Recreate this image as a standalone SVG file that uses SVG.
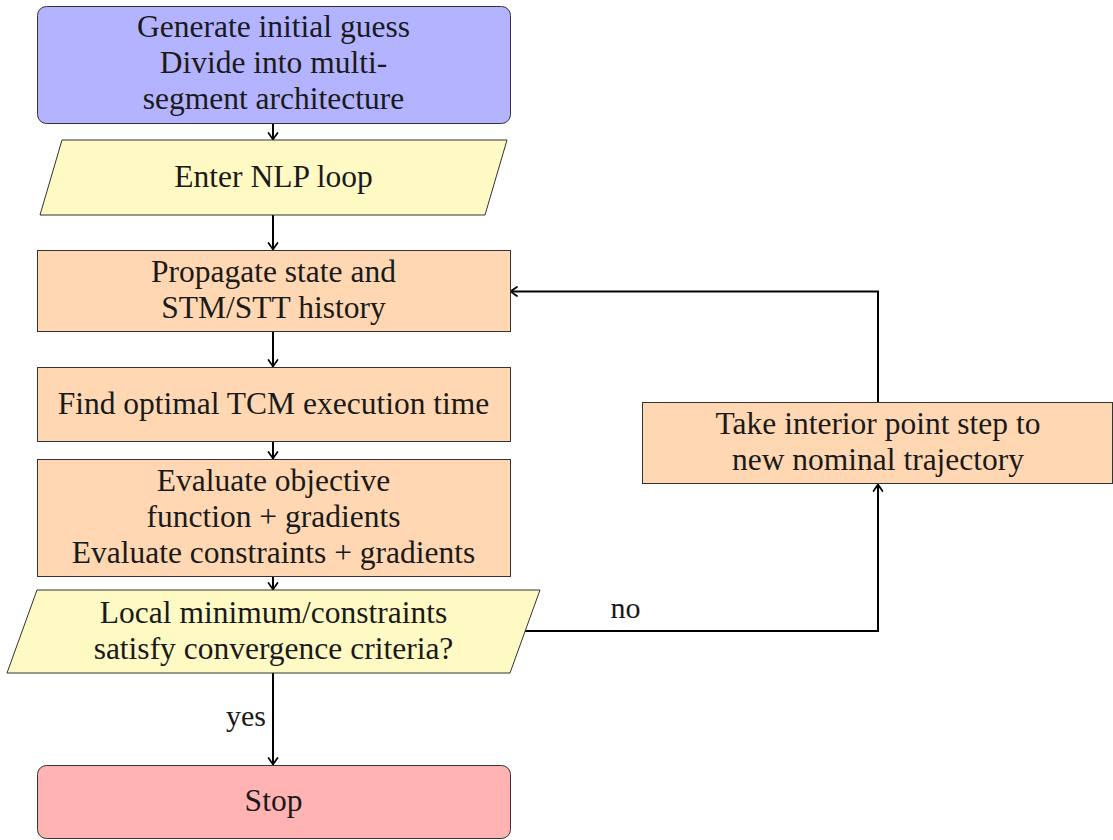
<svg xmlns="http://www.w3.org/2000/svg" width="1113" height="840" viewBox="0 0 1113 840" font-family="Liberation Serif, DejaVu Serif, serif">
<style>
  text { font-family: "Liberation Serif", "DejaVu Serif", serif; }
  .t { font-size: 31.5px; fill: #1a1a1a; text-anchor: middle; }
  .lbl { font-size: 30px; fill: #1a1a1a; }
  .box { stroke: #333; stroke-width: 1; }
  .blue { fill: #b3b3ff; }
  .peach { fill: #ffd8b3; }
  .yellow { fill: #fff9c4; }
  .red { fill: #ffb3b3; }
  .conn { fill: none; stroke: #000; stroke-width: 2; }
</style>
<defs>
  <marker id="arr" markerUnits="userSpaceOnUse" viewBox="-8 -6 10 12" refX="0" refY="0" markerWidth="10" markerHeight="12" orient="auto">
    <path d="M -6.5 -4.5 Q -1.5 -1 0 0 Q -1.5 1 -6.5 4.5" fill="none" stroke="#000" stroke-width="1.7" stroke-linecap="round" stroke-linejoin="round"/>
  </marker>
</defs>
<g id="connectors">
  <path class="conn" marker-end="url(#arr)" d="M 273 124 L 273 139.5"/>
  <path class="conn" marker-end="url(#arr)" d="M 273 215 L 273 249.5"/>
  <path class="conn" marker-end="url(#arr)" d="M 273 332 L 273 366.5"/>
  <path class="conn" marker-end="url(#arr)" d="M 273 442 L 273 458.5"/>
  <path class="conn" marker-end="url(#arr)" d="M 273 577 L 273 589.5"/>
  <path class="conn" marker-end="url(#arr)" d="M 273 673 L 273 764.5"/>
  <path class="conn" marker-end="url(#arr)" d="M 525 631 L 878 631 L 878 484.5"/>
  <path class="conn" marker-end="url(#arr)" d="M 878 402 L 878 291.5 L 510.5 291.5"/>
  <text class="lbl" x="625.5" y="618" text-anchor="middle">no</text>
  <text class="lbl" x="266" y="726" text-anchor="end">yes</text>
</g>
<g id="n1">
  <rect class="box blue" x="37.5" y="6.5" width="473" height="117" rx="9"/>
  <text class="t" x="273.5" y="37">Generate initial guess</text>
  <text class="t" x="273.5" y="73">Divide into multi-</text>
  <text class="t" x="273.5" y="109">segment architecture</text>
</g>
<g id="n2">
  <polygon class="box yellow" points="62,140 507,140 485,215 40,215"/>
  <text class="t" x="273.5" y="187">Enter NLP loop</text>
</g>
<g id="n3">
  <rect class="box peach" x="37.5" y="250.5" width="473" height="81"/>
  <text class="t" x="273.5" y="282">Propagate state and</text>
  <text class="t" x="273.5" y="318">STM/STT history</text>
</g>
<g id="n4">
  <rect class="box peach" x="37.5" y="367.5" width="473" height="74"/>
  <text class="t" x="273.5" y="414">Find optimal TCM execution time</text>
</g>
<g id="n5">
  <rect class="box peach" x="37.5" y="459.5" width="473" height="117"/>
  <text class="t" x="273.5" y="491">Evaluate objective</text>
  <text class="t" x="273.5" y="527">function + gradients</text>
  <text class="t" x="273.5" y="563">Evaluate constraints + gradients</text>
</g>
<g id="n6">
  <polygon class="box yellow" points="37,590 540,590 510,673 7,673"/>
  <text class="t" x="273.5" y="623">Local minimum/constraints</text>
  <text class="t" x="273.5" y="659">satisfy convergence criteria?</text>
</g>
<g id="n7">
  <rect class="box peach" x="642.5" y="402.5" width="470" height="81"/>
  <text class="t" x="878" y="434">Take interior point step to</text>
  <text class="t" x="878" y="470">new nominal trajectory</text>
</g>
<g id="n8">
  <rect class="box red" x="37.5" y="765.5" width="473" height="73" rx="9"/>
  <text class="t" x="273.5" y="811">Stop</text>
</g>
</svg>
